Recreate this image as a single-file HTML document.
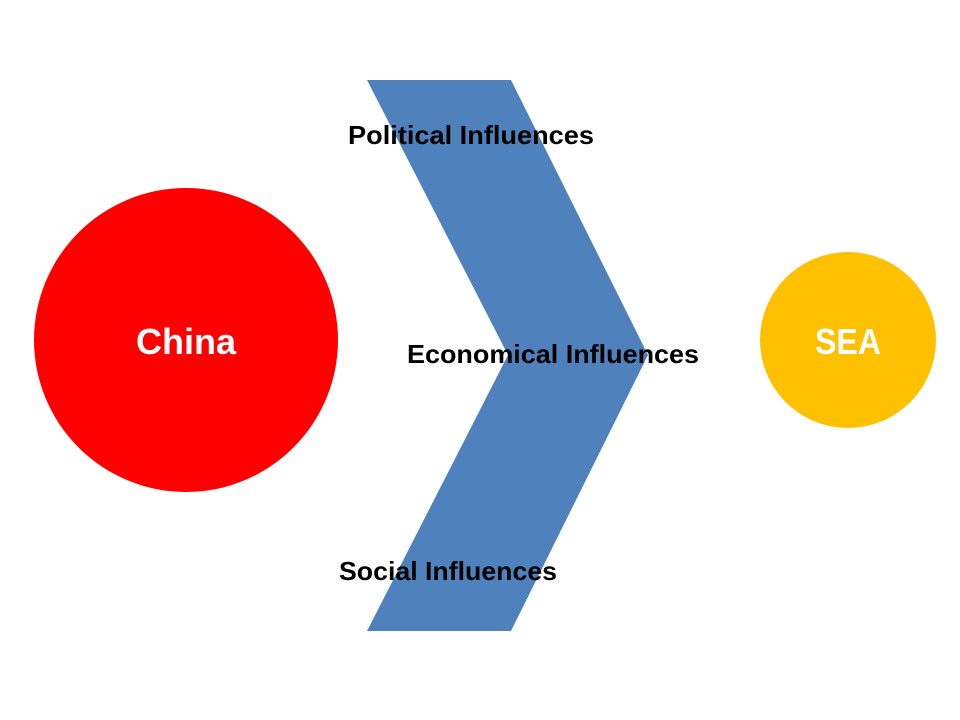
<!DOCTYPE html>
<html><head><style>
html,body{margin:0;padding:0;background:#fff;}
svg{display:block}
text{font-family:"Liberation Sans",sans-serif;font-weight:bold;}
</style></head><body>
<svg width="960" height="720" viewBox="0 0 960 720">
<polygon points="367,80 511,80 648,355 511,631 367,631 508,355" fill="#4f81bd"/>
<circle cx="186" cy="340" r="152" fill="#ff0000"/>
<circle cx="848" cy="340" r="88" fill="#ffc000"/>
<text x="186" y="354" font-size="36" fill="#fff" text-anchor="middle" textLength="100" lengthAdjust="spacingAndGlyphs">China</text>
<text x="848" y="354" font-size="36" fill="#fff" text-anchor="middle" textLength="66" lengthAdjust="spacingAndGlyphs">SEA</text>
<text x="471" y="144" font-size="26" fill="#000" text-anchor="middle" textLength="246" lengthAdjust="spacingAndGlyphs">Political Influences</text>
<text x="553" y="363" font-size="26" fill="#000" text-anchor="middle" textLength="292" lengthAdjust="spacingAndGlyphs">Economical Influences</text>
<text x="448" y="580" font-size="26" fill="#000" text-anchor="middle" textLength="218" lengthAdjust="spacingAndGlyphs">Social Influences</text>
</svg>
</body></html>
